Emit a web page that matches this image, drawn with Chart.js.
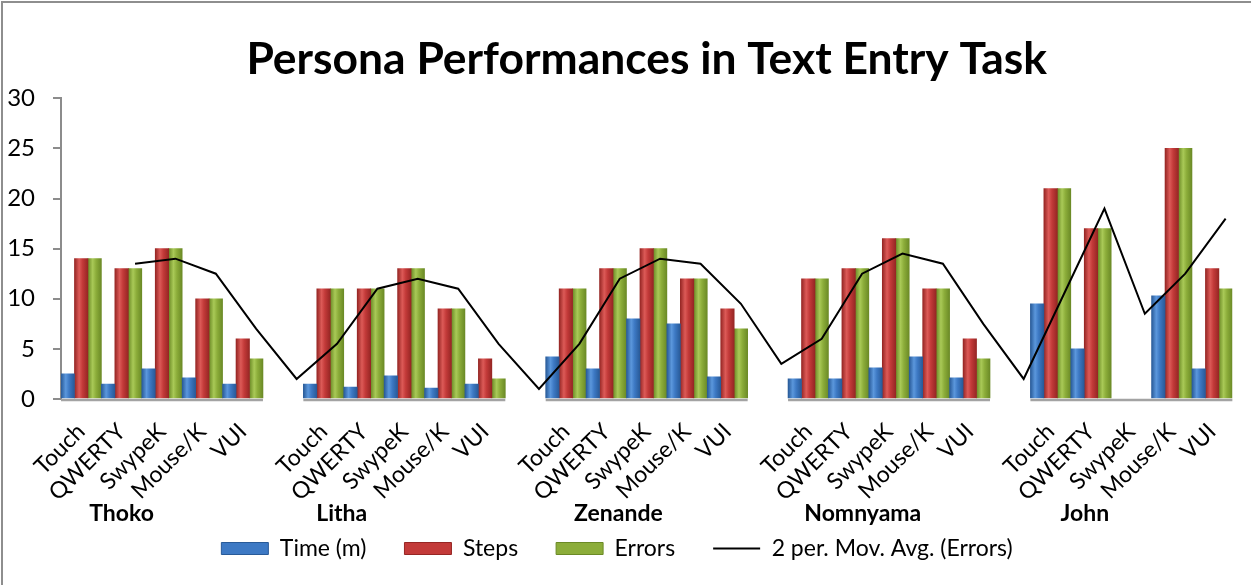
<!DOCTYPE html>
<html><head><meta charset="utf-8">
<script src="https://cdn.jsdelivr.net/npm/chart.js@4/dist/chart.umd.min.js"></script>
<style>html,body{margin:0;padding:0;background:#fff;overflow:hidden}canvas{display:block}</style>
</head><body>
<canvas id="c" width="1251" height="585"></canvas>
<script>
// ---- data ----
const personas = ['Thoko', 'Litha', 'Zenande', 'Nomnyama', 'John'];
const methods = ['Touch', 'QWERTY', 'SwypeK', 'Mouse/K', 'VUI'];
// 29 category slots: five methods per persona, one empty slot between personas
const categoryLabels = ['Touch','QWERTY','SwypeK','Mouse/K','VUI','',
  'Touch','QWERTY','SwypeK','Mouse/K','VUI','',
  'Touch','QWERTY','SwypeK','Mouse/K','VUI','',
  'Touch','QWERTY','SwypeK','Mouse/K','VUI','',
  'Touch','QWERTY','SwypeK','Mouse/K','VUI'];
const timeMinutes = [2.5,1.5,3,2.1,1.5,null, 1.5,1.2,2.3,1.1,1.5,null, 4.2,3,8,7.5,2.2,null, 2,2,3.1,4.2,2.1,null, 9.5,5,0,10.3,3];
const steps       = [14,13,15,10,6,null, 11,11,13,9,4,null, 11,13,15,12,9,null, 12,13,16,11,6,null, 21,17,0,25,13];
const errors      = [14,13,15,10,4,null, 11,11,13,9,2,null, 11,13,15,12,7,null, 12,13,16,11,4,null, 21,17,0,25,11];
const movAvgErrors = [null,13.5,14,12.5,7,2, 5.5,11,12,11,5.5,1, 5.5,12,14,13.5,9.5,3.5, 6,12.5,14.5,13.5,7.5,2, 10.5,19,8.5,12.5,18];
const yTickValues = [0,5,10,15,20,25,30];

// ---- style ----
const FONT = 'Lato, "Open Sans", sans-serif';
const TITLE = 'Persona Performances in Text Entry Task';
const titleSize = (function(){
  const m = document.createElement('canvas').getContext('2d');
  m.font = 'bold 100px ' + FONT;
  return Math.round(100 * 800 / m.measureText(TITLE).width * 10) / 10;
})();
const palette = {
  time:   {base:'#3d79c4', dark:'#285a98', light:'#5b97dc'},
  steps:  {base:'#c33a39', dark:'#962624', light:'#dc5a57'},
  errors: {base:'#8cad3a', dark:'#6b8a26', light:'#a9c957'}
};
const nameAt = [1.0, 6.45, 13.3, 19.35, 24.85]; // persona label anchors, in category units

// the moving-average trendline sits on the Errors bars, as in the spreadsheet chart
const trendOnErrors = {
  id: 'trendOnErrors',
  afterDatasetsUpdate(chart) {
    const bars = chart.getDatasetMeta(2).data;
    chart.getDatasetMeta(3).data.forEach((p, i) => { if (bars[i]) p.x = bars[i].x; });
  }
};

const barGradient = {
  id: 'barGradient',
  beforeDatasetsDraw(chart) {
    const ctx = chart.ctx;
    chart.data.datasets.forEach((ds, di) => {
      const meta = chart.getDatasetMeta(di);
      if (meta.type !== 'bar' || !ds._pal) return;
      meta.data.forEach((el, idx) => {
        const w = el.width, x = el.x;
        if (!isFinite(x) || !w) return;
        if (!ds.data[idx]) { el.options.backgroundColor = 'rgba(0,0,0,0)'; return; }
        const g = ctx.createLinearGradient(x - w / 2, 0, x + w / 2, 0);
        g.addColorStop(0, ds._pal.dark);
        g.addColorStop(0.35, ds._pal.light);
        g.addColorStop(0.6, ds._pal.base);
        g.addColorStop(1, ds._pal.dark);
        el.options.backgroundColor = g;
      });
    });
  }
};

const decor = {
  id: 'decor',
  beforeDraw(chart) {
    const ctx = chart.ctx;
    ctx.save(); ctx.fillStyle = '#fff'; ctx.fillRect(0, 0, chart.width, chart.height); ctx.restore();
  },
  afterDatasetsDraw(chart) {
    const ctx = chart.ctx, xs = chart.scales.x, ys = chart.scales.y;
    const y0 = ys.getPixelForValue(0);
    ctx.save();
    ctx.strokeStyle = '#a3a3a3'; ctx.lineWidth = 2.5;
    personas.forEach((p, g) => {
      const a = xs.getPixelForValue(6 * g - 0.5), b = xs.getPixelForValue(6 * g + 4.5);
      ctx.beginPath(); ctx.moveTo(a, y0 + 1); ctx.lineTo(b, y0 + 1); ctx.stroke();
    });
    ctx.restore();
  },
  afterDraw(chart) {
    const ctx = chart.ctx, xs = chart.scales.x;
    ctx.save();
    ctx.fillStyle = '#000';
    ctx.font = 'bold 23px ' + FONT;
    ctx.textAlign = 'center'; ctx.textBaseline = 'middle';
    personas.forEach((p, g) => {
      ctx.fillText(p, xs.getPixelForValue(nameAt[g]), chart.chartArea.bottom + 115);
    });
    ctx.fillStyle = '#8e8e8e';
    ctx.fillRect(1, 1, chart.width, 2);
    ctx.fillRect(1, 1, 2, chart.height);
    ctx.restore();
  }
};

const barDs = (label, data, pal) => ({
  label, data, _pal: pal,
  backgroundColor: () => pal.base,
  borderWidth: 0,
  barPercentage: 1, categoryPercentage: 1,
  order: 1
});

new Chart(document.getElementById('c'), {
  type: 'bar',
  data: {
    labels: categoryLabels,
    datasets: [
      barDs('Time (m)', timeMinutes, palette.time),
      barDs('Steps', steps, palette.steps),
      barDs('Errors', errors, palette.errors),
      {
        type: 'line', label: '2 per. Mov. Avg. (Errors)',
        data: movAvgErrors,
        borderColor: '#000', backgroundColor: '#000',
        borderWidth: 2, pointRadius: 0, tension: 0, fill: false, order: 0
      }
    ]
  },
  options: {
    responsive: false, animation: false, devicePixelRatio: 1,
    events: [],
    layout: {padding: {left: 0, right: 17, top: 0, bottom: 15}},
    plugins: {
      title: {
        display: true, text: TITLE, color: '#000', fullSize: false,
        font: {family: FONT, size: titleSize, weight: 'bold'},
        padding: {top: 33, bottom: 12}
      },
      legend: {
        position: 'bottom',
        labels: {
          usePointStyle: true, pointStyleWidth: 47, boxHeight: 12,
          padding: 38, color: '#000', font: {family: FONT, size: 23},
          sort: (a, b) => a.datasetIndex - b.datasetIndex,
          generateLabels(chart) {
            const items = Chart.defaults.plugins.legend.labels.generateLabels(chart);
            return items.map(it => {
              const ds = chart.data.datasets[it.datasetIndex];
              if (ds.type === 'line') {
                return Object.assign(it, {pointStyle: 'line', strokeStyle: '#000', lineWidth: 2, fillStyle: '#000'});
              }
              return Object.assign(it, {pointStyle: 'rect', fillStyle: ds._pal.base, strokeStyle: ds._pal.dark, lineWidth: 1});
            });
          }
        }
      },
      tooltip: {enabled: false}
    },
    scales: {
      x: {
        type: 'category', offset: true,
        grid: {display: false, drawTicks: false},
        border: {display: false},
        ticks: {autoSkip: false, minRotation: 45, maxRotation: 45, color: '#000', padding: 19,
                font: {family: FONT, size: 23}},
        afterFit(s) { s.height = 100; }
      },
      y: {
        min: 0, max: 30,
        afterBuildTicks(s) { s.ticks = yTickValues.map(v => ({value: v})); },
        ticks: {color: '#000', padding: 18, font: {family: FONT, size: 24}},
        grid: {drawOnChartArea: false, color: '#8c8c8c', tickLength: 8, lineWidth: 2},
        border: {color: '#8c8c8c', width: 2},
        afterFit(s) { s.width = 61; }
      }
    }
  },
  plugins: [decor, barGradient, trendOnErrors]
});
</script>
</body></html>
